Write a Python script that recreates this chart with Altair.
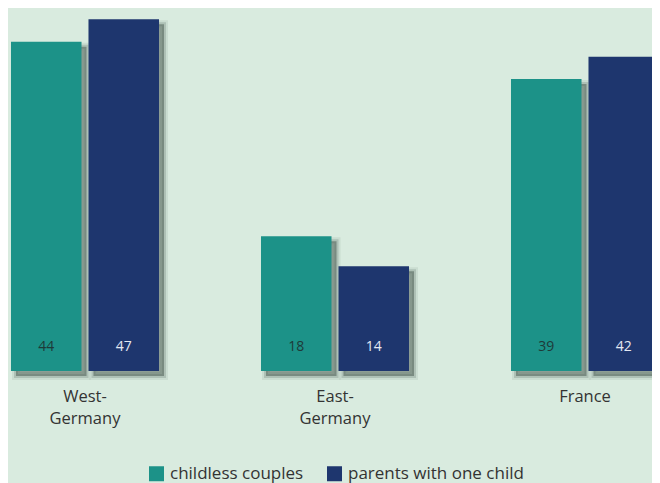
import altair as alt
import pandas as pd

regions = ["West-Germany", "East-Germany", "France"]
series = ["childless couples", "parents with one child"]
childless = [44, 18, 39]
one_child = [47, 14, 42]

rows = []
for i, r in enumerate(regions):
    rows.append({"region": r, "group": series[0], "value": childless[i]})
    rows.append({"region": r, "group": series[1], "value": one_child[i]})
df = pd.DataFrame(rows)

BG = "#d9ebdf"
TEAL = "#1c9288"
NAVY = "#1e366e"
FONT = "Open Sans"
YDOM = [0, 48.5]

x_enc = alt.X(
    "region:N",
    sort=regions,
    scale=alt.Scale(range=[-48, 702], paddingInner=0, paddingOuter=0),
    axis=alt.Axis(
        title=None, domain=False, ticks=False, labelAngle=0,
        labelFontSize=16.5, labelColor="#333333", labelFont=FONT,
        labelPadding=17, labelLineHeight=22,
        labelExpr="indexof(datum.label, '-') > 0 ? [split(datum.label, '-')[0] + '-', split(datum.label, '-')[1]] : datum.label",
    ),
)


def xoff(shift):
    return alt.XOffset("group:N", sort=series,
                       scale=alt.Scale(range=[shift, 250 + shift],
                                       paddingInner=0.09, paddingOuter=0.658))


y_enc = alt.Y("value:Q", scale=alt.Scale(domain=YDOM, nice=False), axis=None)

shadow_base = alt.Chart(df).encode(x=x_enc, xOffset=xoff(5), y=y_enc)
shadow_outer = shadow_base.mark_bar(
    yOffset=5, y2Offset=5, fill="#4f5f56", fillOpacity=0,
    stroke="#4f5f56", strokeWidth=8, strokeOpacity=0.1,
)
shadow = shadow_base.mark_bar(
    yOffset=5, y2Offset=5, fill="#4f5f56", fillOpacity=0.55,
    stroke="#4f5f56", strokeWidth=4, strokeOpacity=0.22,
)
shadows = alt.layer(shadow_outer, shadow)

bars = alt.Chart(df).mark_bar().encode(
    x=x_enc, xOffset=xoff(0), y=y_enc,
    color=alt.Color(
        "group:N", sort=series,
        scale=alt.Scale(domain=series, range=[TEAL, NAVY]),
        legend=alt.Legend(
            title=None, orient="none", legendX=140, legendY=457,
            direction="horizontal", symbolType="square", symbolSize=225,
            symbolStrokeWidth=0, symbolOpacity=1, labelLimit=0,
            labelFontSize=17, labelFont=FONT, labelColor="#333333",
            columnPadding=22, labelOffset=5,
        ),
    ),
)

labels = alt.Chart(df).mark_text(
    fontSize=14, font=FONT, baseline="middle", dy=-24
).encode(
    x=x_enc, xOffset=xoff(0),
    y=alt.datum(0),
    text="value:Q",
    fill=alt.Fill("group:N", sort=series,
                  scale=alt.Scale(domain=series, range=["#1e3a38", "#e4e8f2"]),
                  legend=None),
)

front = alt.layer(bars, labels)

chart = alt.layer(shadows, front).resolve_scale(
    xOffset="independent", color="independent", fill="independent"
).properties(
    width=644, height=363, background=BG,
    padding={"left": 0, "top": 0, "right": 0, "bottom": 120},
    autosize=alt.AutoSizeParams(type="none"),
).configure_view(stroke=None)

chart.save("out.html", embed_options={"renderer": "svg", "actions": False})
